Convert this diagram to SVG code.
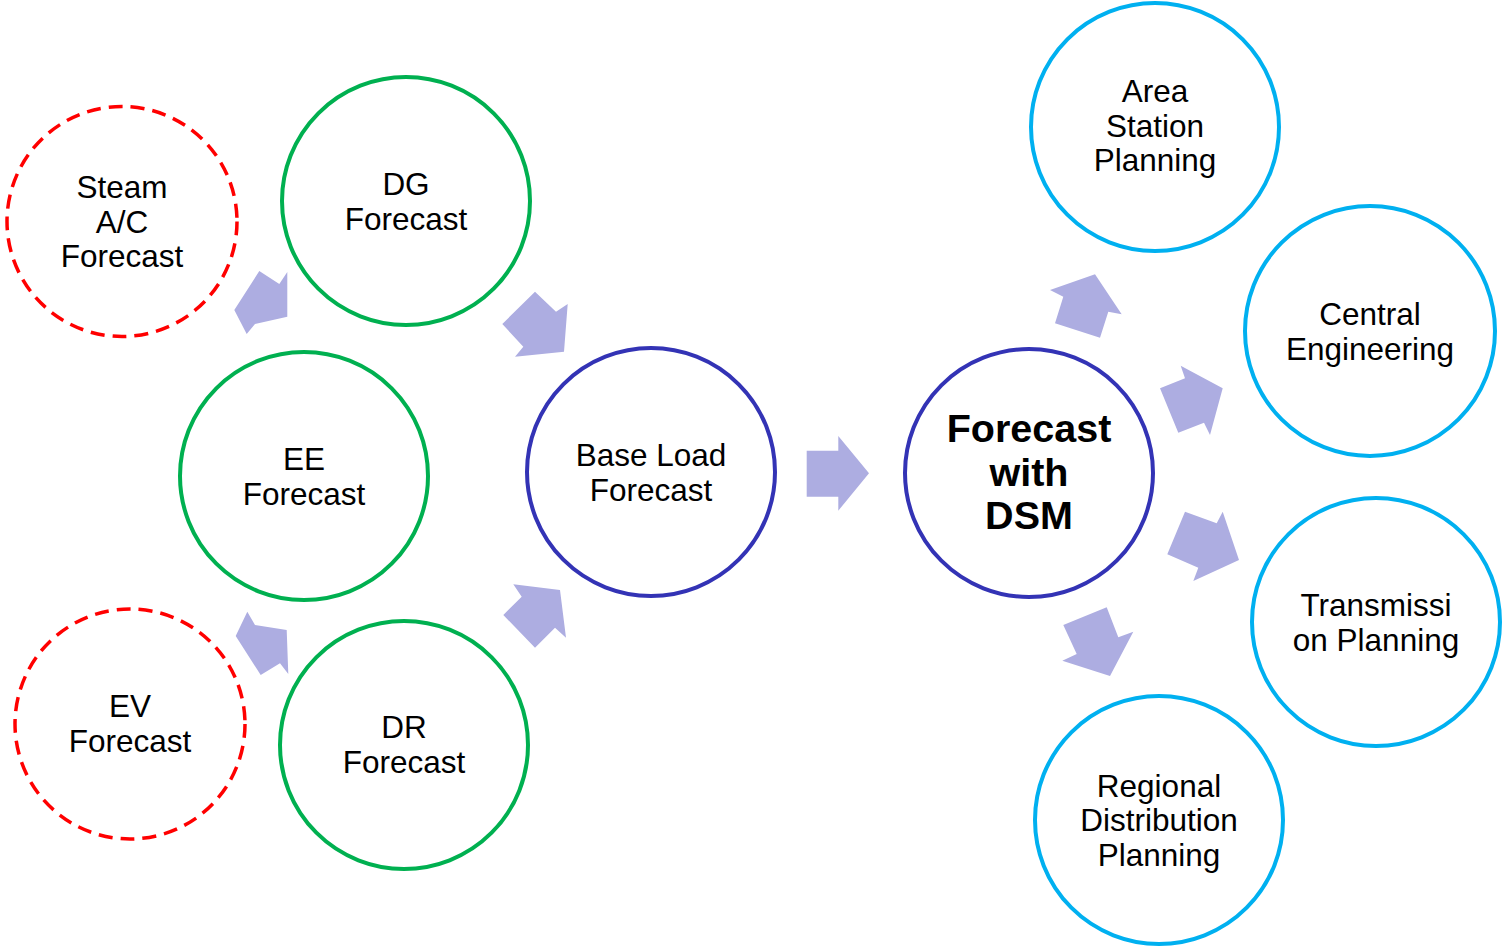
<svg xmlns="http://www.w3.org/2000/svg" width="1503" height="946" viewBox="0 0 1503 946">
<defs>
<style>
.n{fill:#fff;stroke-width:4}
.g{stroke:#00B050}
.r{stroke:#FF0000;stroke-width:3.5;stroke-dasharray:14 8}
.b{stroke:#3333B5}
.c{stroke:#00B0F0}
.t{font-family:"Liberation Sans",Arial,sans-serif;font-size:31.5px;fill:#000;text-anchor:middle}
.tb{font-family:"Liberation Sans",Arial,sans-serif;font-size:39.5px;font-weight:bold;fill:#000;text-anchor:middle}
.a{fill:#ADADE1}
</style>
</defs>
<rect width="1503" height="946" fill="#fff"/>
<g id="connectors">
<polygon class="a" points="259.3,271 279.3,284 287.3,272 287.3,316.7 255,324 246.7,334 234.3,310"/>
<polygon class="a" points="535,291.7 556,311.7 567.7,304 564,351.7 515,356.7 523.3,346.7 502.3,324"/>
<polygon class="a" points="247.3,611.7 255,625 286.7,630 288.3,674 280,663.3 260.7,675 235.7,636"/>
<polygon class="a" points="513.3,584.3 560,590 566,637.7 555,627.7 535,647.7 503.3,615 521.7,596.7"/>
<polygon class="a" points="806.7,450.7 838.3,450.7 838.3,436 869,473.3 838.3,510.7 838.3,496.7 806.7,496.7"/>
<polygon class="a" points="1050,290 1095,274.3 1121.7,314.3 1108.3,311.7 1100,337.7 1055,323.3 1063.3,296.7"/>
<polygon class="a" points="1180.7,365.7 1185,378.3 1160,388.3 1178.3,432.7 1204,422.7 1210,435 1222.7,388.3"/>
<polygon class="a" points="1185,511.7 1216.7,523.3 1222.7,511.7 1239,560 1193.3,581 1198.3,567.7 1167.3,554.3"/>
<polygon class="a" points="1063.3,625 1106.7,607.3 1118.3,637.3 1133.3,631.7 1110,676 1062.3,660.7 1076.7,654"/>
</g>
<g id="steam">
<circle class="n r" cx="122" cy="221.5" r="115"/>
<text class="t" x="122" y="197.5">Steam</text>
<text class="t" x="122" y="232.5">A/C</text>
<text class="t" x="122" y="267">Forecast</text>
</g>
<g id="dg">
<circle class="n g" cx="406" cy="201" r="124"/>
<text class="t" x="406" y="195">DG</text>
<text class="t" x="406" y="230">Forecast</text>
</g>
<g id="ee">
<circle class="n g" cx="304" cy="476" r="124"/>
<text class="t" x="304" y="470">EE</text>
<text class="t" x="304" y="505">Forecast</text>
</g>
<g id="ev">
<circle class="n r" cx="130" cy="724" r="115"/>
<text class="t" x="130" y="717">EV</text>
<text class="t" x="130" y="752">Forecast</text>
</g>
<g id="dr">
<circle class="n g" cx="404" cy="745" r="124"/>
<text class="t" x="404" y="738">DR</text>
<text class="t" x="404" y="773">Forecast</text>
</g>
<g id="base">
<circle class="n b" cx="651" cy="472" r="124"/>
<text class="t" x="651" y="466">Base Load</text>
<text class="t" x="651" y="501">Forecast</text>
</g>
<g id="dsm">
<circle class="n b" cx="1029" cy="473" r="124"/>
<text class="tb" x="1029" y="442">Forecast</text>
<text class="tb" x="1029" y="486">with</text>
<text class="tb" x="1029" y="529">DSM</text>
</g>
<g id="area">
<circle class="n c" cx="1155" cy="127" r="124"/>
<text class="t" x="1155" y="102">Area</text>
<text class="t" x="1155" y="137">Station</text>
<text class="t" x="1155" y="171">Planning</text>
</g>
<g id="central">
<circle class="n c" cx="1370" cy="331" r="125"/>
<text class="t" x="1370" y="325">Central</text>
<text class="t" x="1370" y="360">Engineering</text>
</g>
<g id="transmission">
<circle class="n c" cx="1376" cy="622" r="124"/>
<text class="t" x="1376" y="616">Transmissi</text>
<text class="t" x="1376" y="651">on Planning</text>
</g>
<g id="regional">
<circle class="n c" cx="1159" cy="820" r="124"/>
<text class="t" x="1159" y="797">Regional</text>
<text class="t" x="1159" y="831">Distribution</text>
<text class="t" x="1159" y="866">Planning</text>
</g>
</svg>
